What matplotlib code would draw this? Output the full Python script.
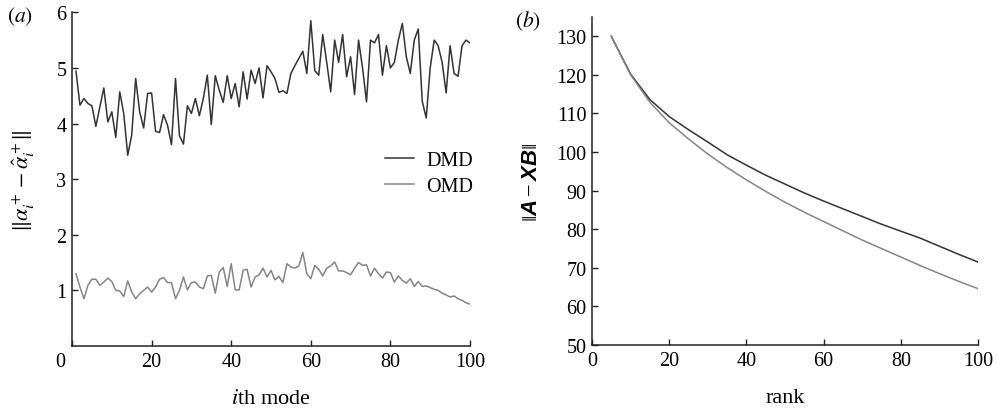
import matplotlib
matplotlib.use("Agg")
import matplotlib.pyplot as plt
import numpy as np
from matplotlib.transforms import ScaledTranslation

# ---------------- data ----------------
mode_idx = list(range(1, 101))
dmd_mode = [4.94, 4.33, 4.45, 4.36, 4.32, 3.95, 4.30, 4.64, 4.03, 4.21,
            3.75, 4.57, 4.18, 3.43, 3.79, 4.81, 4.21, 3.92, 4.54, 4.55,
            3.86, 3.84, 4.16, 3.97, 3.62, 4.81, 3.78, 3.63, 4.32, 4.18,
            4.45, 4.14, 4.45, 4.87, 3.98, 4.86, 4.60, 4.38, 4.86, 4.45,
            4.72, 4.30, 4.93, 4.44, 4.96, 4.72, 5.00, 4.46, 5.04, 4.93,
            4.81, 4.56, 4.59, 4.54, 4.90, 5.04, 5.17, 5.30, 4.90, 5.85,
            4.95, 4.87, 5.60, 5.10, 4.57, 5.50, 5.10, 5.60, 4.84, 5.20,
            4.52, 5.50, 5.00, 4.39, 5.50, 5.45, 5.60, 4.87, 5.40, 5.00,
            5.10, 5.50, 5.80, 5.20, 4.90, 5.50, 5.70, 4.40, 4.10, 5.00,
            5.50, 5.40, 5.10, 4.55, 5.40, 4.90, 4.85, 5.40, 5.50, 5.45]
omd_mode = [1.30, 1.06, 0.85, 1.09, 1.20, 1.20, 1.09, 1.15, 1.22, 1.16,
            1.00, 0.99, 0.89, 1.17, 0.97, 0.85, 0.94, 1.00, 1.06, 0.97,
            1.06, 1.20, 1.23, 1.14, 1.14, 0.85, 1.00, 1.24, 1.01, 1.14,
            1.15, 1.06, 1.03, 1.26, 1.27, 0.95, 1.33, 1.41, 1.07, 1.48,
            1.01, 1.01, 1.36, 1.38, 1.06, 1.24, 1.28, 1.40, 1.24, 1.36,
            1.19, 1.25, 1.14, 1.48, 1.42, 1.40, 1.44, 1.68, 1.30, 1.21,
            1.45, 1.38, 1.26, 1.40, 1.44, 1.51, 1.35, 1.35, 1.32, 1.28,
            1.40, 1.50, 1.45, 1.46, 1.26, 1.40, 1.30, 1.22, 1.33, 1.32,
            1.15, 1.26, 1.18, 1.13, 1.21, 1.07, 1.16, 1.07, 1.08, 1.05,
            1.02, 1.00, 0.95, 0.92, 0.88, 0.90, 0.85, 0.82, 0.78, 0.75]

rank = [5, 10, 15, 20, 25, 30, 35, 40, 45, 50,
        55, 60, 65, 70, 75, 80, 85, 90, 95, 100]
dmd_rank = [130.0, 120.2, 113.6, 109.2, 105.8, 102.6, 99.3, 96.6, 94.0, 91.7,
            89.4, 87.3, 85.3, 83.3, 81.3, 79.5, 77.7, 75.6, 73.5, 71.5]
omd_rank = [130.0, 120.0, 112.9, 107.6, 103.4, 99.5, 96.0, 92.8, 89.8, 87.0,
            84.4, 82.0, 79.6, 77.2, 75.0, 72.8, 70.6, 68.5, 66.5, 64.6]

xticks_a = [0, 20, 40, 60, 80, 100]
yticks_a = [1, 2, 3, 4, 5, 6]
xticks_b = [0, 20, 40, 60, 80, 100]
yticks_b = [50, 60, 70, 80, 90, 100, 110, 120, 130]
series_names = ["DMD", "OMD"]

# ---------------- style ----------------
plt.rcParams['font.family'] = ['Liberation Serif', 'DejaVu Serif']
plt.rcParams['mathtext.fontset'] = 'stix'
plt.rcParams['mathtext.bf'] = 'Liberation Sans:bold:italic'
plt.rcParams['mathtext.rm'] = 'Liberation Serif'
plt.rcParams['mathtext.it'] = 'Liberation Serif:italic'

c_dmd = '#333333'
c_omd = '#858585'
lw = 1.1
tick_fs = 14.5
lab_fs = 16

fig = plt.figure(figsize=(9.97, 4.10), dpi=100)
W, H = 997, 410
axA = fig.add_axes([72 / W, (H - 347) / H, (470 - 72) / W, (347 - 13.3) / H])
axB = fig.add_axes([592 / W, (H - 346) / H, (978 - 592) / W, (346 - 18) / H])

for ax in (axA, axB):
    for s in ('top', 'right'):
        ax.spines[s].set_visible(False)
    for s in ('left', 'bottom'):
        ax.spines[s].set_linewidth(1.1)
        ax.spines[s].set_color('#222222')
    ax.tick_params(direction='in', length=4, width=1.0, color='#222222',
                   labelsize=tick_fs, pad=4)

# panel (a)
axA.plot(mode_idx, dmd_mode, color=c_dmd, lw=lw, label=series_names[0])
axA.plot(mode_idx, omd_mode, color=c_omd, lw=lw, label=series_names[1])
axA.set_xlim(0, 100)
axA.set_ylim(0, 6)
axA.set_xticks(xticks_a)
axA.set_yticks(yticks_a)
axA.set_xlabel(r'$i$th mode', fontsize=lab_fs, labelpad=13)
axA.set_ylabel(r'$\|\alpha_i^+ - \hat{\alpha}_i^+\|$', fontsize=lab_fs, labelpad=14)
t0 = axA.xaxis.get_major_ticks()[0]
t0.label1.set_transform(t0.label1.get_transform() +
                        ScaledTranslation(-12 / 100, 0, fig.dpi_scale_trans))
leg = axA.legend(loc='center left', bbox_to_anchor=(0.786, 0.518), frameon=False,
                 fontsize=tick_fs, handlelength=1.45, handletextpad=0.6,
                 borderpad=0, borderaxespad=0, labelspacing=0.35)
fig.text(7 / W, 1 - 17 / H, r'$(a)$', fontsize=tick_fs + 1, va='center', ha='left')

# panel (b)
axB.plot(rank, dmd_rank, color=c_dmd, lw=lw)
axB.plot(rank, omd_rank, color=c_omd, lw=lw)
axB.set_xlim(0, 100)
axB.set_ylim(50, 135)
axB.set_xticks(xticks_b)
axB.set_yticks(yticks_b)
axB.set_xlabel('rank', fontsize=lab_fs, labelpad=13)
axB.set_ylabel(r'$\|\mathbf{A} - \mathbf{XB}\|$', fontsize=lab_fs, labelpad=10,
               math_fontfamily='custom')
fig.text(515 / W, 1 - 21 / H, r'$(b)$', fontsize=tick_fs + 1, va='center', ha='left')

fig.savefig('out.png', dpi=100)
